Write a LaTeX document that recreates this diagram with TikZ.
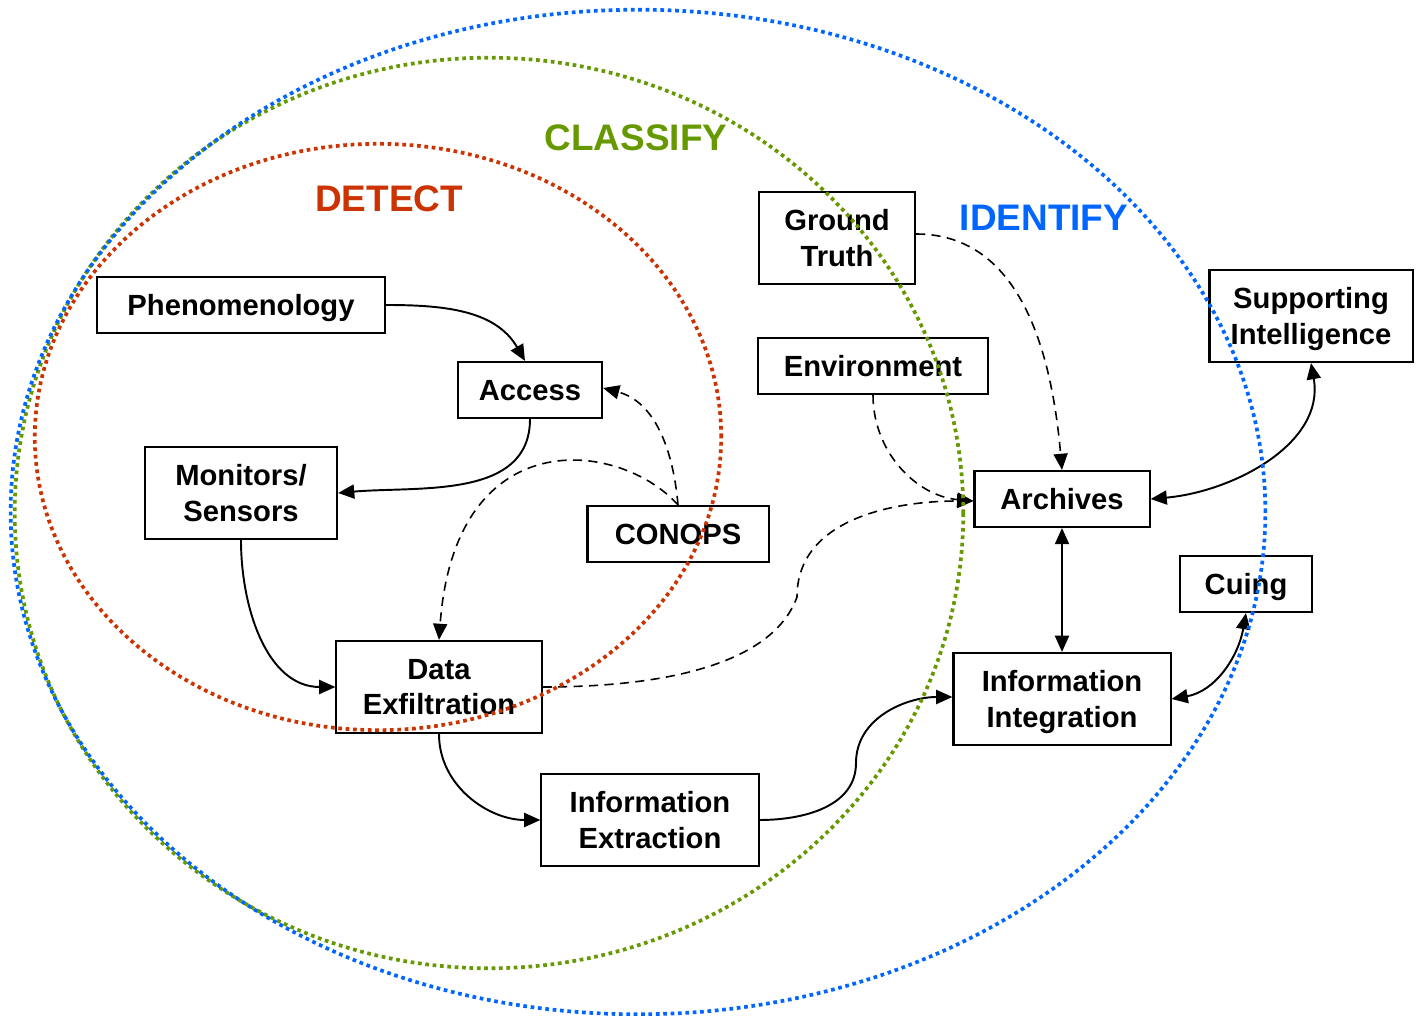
\documentclass[tikz,border=0pt]{standalone}
\usepackage{fontspec}
\setmainfont{Liberation Sans}
\usetikzlibrary{arrows.meta}

\definecolor{detectred}{RGB}{204,51,0}
\definecolor{classgreen}{RGB}{102,153,0}
\definecolor{identblue}{RGB}{0,102,255}

\begin{document}
\begin{tikzpicture}[x=0.01cm, y=-0.01cm,
        box/.style={draw, line width=0.6pt, inner sep=0pt, align=center, text depth=0pt,
            minimum height=0.56cm, font={\fontsize{8.3}{10}\selectfont\bfseries}},
        tallbox/.style={box, minimum height=0.92cm},
        link/.style={line width=0.55pt, -{Triangle[length=4.6pt,width=4pt]}},
        dlink/.style={link, line width=0.45pt, dash pattern=on 2.6pt off 1.8pt},
        both/.style={line width=0.55pt, {Triangle[length=4.6pt,width=4pt]}-{Triangle[length=4.6pt,width=4pt]}},
        loop/.style={line width=1.05pt, dash pattern=on 1.05pt off 1.05pt},
        title/.style={font={\fontsize{10.5}{12}\selectfont\bfseries}}]

        \useasboundingbox (0,0) rectangle (1418,1016);

        % boxes
        \node[box, minimum width=2.88cm] (phen) at (241,305) {Phenomenology};
        \node[box, minimum width=1.44cm] (acc) at (530,390) {Access};
        \node[tallbox, minimum width=1.92cm] (mon) at (241,493) {Monitors/\\Sensors};
        \node[box, minimum width=1.81cm] (con) at (678,534) {CONOPS};
        \node[tallbox, minimum width=2.05cm] (dex) at (439,687) {Data\\Exfiltration};
        \node[tallbox, minimum width=2.17cm] (iext) at (650,820) {Information\\Extraction};
        \node[tallbox, minimum width=1.56cm] (gt) at (837,238) {Ground\\Truth};
        \node[box, minimum width=2.29cm] (env) at (873,366) {Environment};
        \node[box, minimum width=1.75cm] (arc) at (1062,499) {Archives};
        \node[tallbox, minimum width=2.03cm] (sup) at (1311,316) {Supporting\\Intelligence};
        \node[box, minimum width=1.32cm] (cue) at (1246,584) {Cuing};
        \node[tallbox, minimum width=2.17cm] (iint) at (1062,699) {Information\\Integration};

        % titles
        \node[title, detectred] (tdet) at (389,199) {DETECT};
        \node[title, classgreen] (tcla) at (636,138) {CLASSIFY};
        \node[title, identblue] (tide) at (1044,218) {IDENTIFY};

        % bend points of the s-curves
        \coordinate (dexbend) at (797,597);
        \coordinate (iexbend) at (856,763);

        % solid links
        \draw[link] (phen.east) to[out=0,in=120] ([xshift=-0.05cm]acc.north);
        \draw[link] (acc.south) to[out=-90,in=5] (mon.east);
        \draw[link] (mon.south) to[out=-90,in=180] (dex.west);
        \draw[link] (dex.south) to[out=-90,in=180] (iext.west);
        \draw[link] (iext.east) to[out=0,in=-90] (iexbend) to[out=90,in=180] ([yshift=0.02cm]iint.west);

        % dashed links
        \draw[dlink] (con.north) to[out=95,in=-15] ([yshift=0.02cm]acc.east);
        \draw[dlink] (con.north) .. controls (620,440) and (455,420) .. (dex.north);
        \draw[dlink] (dex.east) to[out=0,in=-110,looseness=0.8] (dexbend) to[out=90,in=180] ([yshift=-0.02cm]arc.west);
        \draw[dlink] ([yshift=0.04cm]gt.east) to[out=0,in=95] (arc.north);
        \draw[dlink] (env.south) to[out=-90,in=175] ([yshift=-0.02cm]arc.west);

        % two-way links
        \draw[both] (arc.east) to[out=5,in=-80] (sup.south);
        \draw[both] (arc.south) -- (iint.north);
        \draw[both] (cue.south) to[out=-100,in=10] (iint.east);

        % loops
        \draw[loop, detectred] (378,437) ellipse [x radius=3.43cm, y radius=2.93cm];
        \draw[loop, classgreen] (489,513) ellipse [x radius=4.74cm, y radius=4.55cm];
        \draw[loop, identblue] (638,512) ellipse [x radius=6.27cm, y radius=5.02cm];
    \end{tikzpicture}
\end{document}
